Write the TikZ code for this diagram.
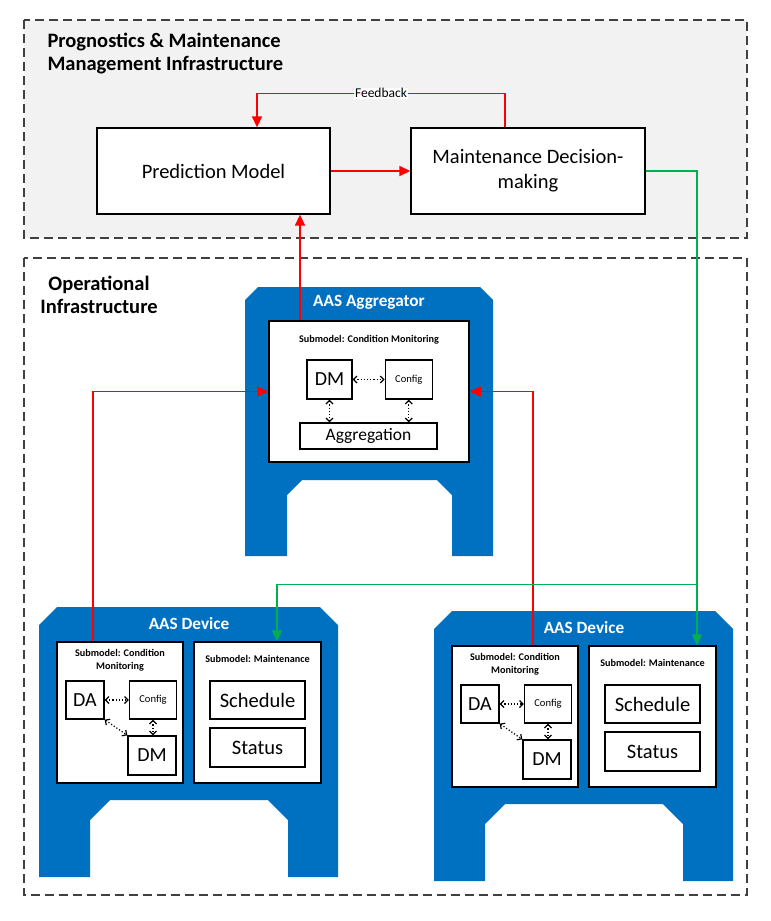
\documentclass[tikz,border=0pt]{standalone}
\usepackage{fontspec}
\setmainfont{Carlito}
\usepackage{tikz}
\usetikzlibrary{arrows.meta,calc,positioning}
\definecolor{aasblue}{HTML}{0070C0}
\definecolor{infragray}{HTML}{F2F2F2}
\definecolor{arrred}{HTML}{FF0000}
\definecolor{arrgreen}{HTML}{00B050}
\tikzstyle{infra} = [draw=black!75, line width=2pt, dash pattern=on 9pt off 5pt]
\tikzstyle{title} = [font=\bfseries\fontsize{20.5}{23}\selectfont]
\tikzstyle{block} = [rectangle, draw, fill=white, line width=1.3pt, align=center,
    minimum width=233pt, minimum height=86pt, font=\fontsize{20.5}{25}\selectfont]
\tikzstyle{submodel} = [rectangle, draw, fill=white, line width=1.5pt,
    minimum width=126pt, minimum height=141pt]
\tikzstyle{sublabel} = [align=center, font=\bfseries\fontsize{10.2}{13}\selectfont]
\tikzstyle{aastitle} = [text=white, font=\bfseries\fontsize{17.2}{20}\selectfont]
\tikzstyle{part} = [rectangle, draw, fill=white, line width=1.3pt, inner sep=0pt,
    minimum width=47pt, minimum height=39pt, font=\fontsize{20}{22}\selectfont]
\tikzstyle{cfg} = [part, font=\fontsize{10.6}{12}\selectfont]
\tikzstyle{entry} = [part, minimum width=95pt, font=\fontsize{20.5}{24}\selectfont]
\tikzstyle{line} = [draw=arrred, line width=1.4pt, -{Triangle[length=11pt,width=10pt]}]
\tikzstyle{gline} = [draw=arrgreen, line width=1.4pt, -{Triangle[length=11pt,width=10pt]}]
\tikzstyle{dotline} = [draw, dotted, line width=1.2pt,
    {Straight Barb[length=3.5pt,width=7pt]}-{Straight Barb[length=3.5pt,width=7pt]}]

\begin{document}
\begin{tikzpicture}[x=1pt,y=-1pt]
    \useasboundingbox (0,0) rectangle (771,921);
    % Infrastructure frames
    \draw [infra, fill=infragray] (24,20) rectangle (747,238);
    \draw [infra] (24,258) rectangle (747,895);
    \node [title, anchor=west, align=left] (pmtitle) at (44,53.5) {Prognostics \& Maintenance\\Management Infrastructure};
    \node [title, align=center] (optitle) at (99,295) {Operational\\Infrastructure};

    % Place nodes
    \node [block] (pred) at (213.5,171) {Prediction Model};
    \node [block, minimum width=234pt] (mdm) at (528,171) {Maintenance Decision-\\making};

    % AAS Aggregator
    \fill [aasblue] (245,300) -- (258,287) -- (480,287) -- (493,300) -- (493,556) -- (452,556)
        -- (452,495) -- (437,480) -- (302,480) -- (287,495) -- (287,556) -- (245,556) -- cycle;
    \node [aastitle] (aggtitle) at (369,302) {AAS Aggregator};
    \node [submodel, minimum width=200pt] (aggsub) at (369,391.5) {};
    \node [sublabel] (agglabel) at (369,340) {Submodel: Condition Monitoring};
    \node [part, minimum width=45pt] (aggdm) at (329.5,379.5) {DM};
    \node [cfg, right=32pt of aggdm] (aggcfg) {Config};
    \node [part, minimum width=137pt, minimum height=26pt, font=\fontsize{17.5}{20}\selectfont] (aggagg) at (368.5,436) {Aggregation};

    % AAS Device, left
    \fill [aasblue] (39,625) -- (57,607) -- (320,607) -- (338,625) -- (338,877) -- (288,877)
        -- (288,820) -- (268,800) -- (110,800) -- (90,820) -- (90,877) -- (39,877) -- cycle;
    \node [aastitle] (ltitle) at (189,624) {AAS Device};
    \node [submodel] (lcm) at (120,712.5) {};
    \node [sublabel] (lcmlabel) at (120,660.5) {Submodel: Condition\\Monitoring};
    \node [part, minimum width=38pt, minimum height=38pt] (lda) at (85,700) {DA};
    \node [cfg, minimum height=38pt] (lcfg) at (153,700) {Config};
    \node [part, minimum width=48pt] (ldm) at (152,755.5) {DM};
    \node [submodel, minimum width=127pt] (lmaint) at (257.5,712.5) {};
    \node [sublabel] (lmaintlabel) at (257.5,659) {Submodel: Maintenance};
    \node [entry, minimum height=38pt] (lsched) at (257.5,700) {Schedule};
    \node [entry] (lstatus) at (257.5,747.5) {Status};

    % AAS Device, right
    \begin{scope}[shift={(395,4)}]
    \fill [aasblue] (39,625) -- (57,607) -- (320,607) -- (338,625) -- (338,877) -- (288,877)
        -- (288,820) -- (268,800) -- (110,800) -- (90,820) -- (90,877) -- (39,877) -- cycle;
    \node [aastitle] (rtitle) at (189,624) {AAS Device};
    \node [submodel] (rcm) at (120,712.5) {};
    \node [sublabel] (rcmlabel) at (120,660.5) {Submodel: Condition\\Monitoring};
    \node [part, minimum width=38pt, minimum height=38pt] (rda) at (85,700) {DA};
    \node [cfg, minimum height=38pt] (rcfg) at (153,700) {Config};
    \node [part, minimum width=48pt] (rdm) at (152,755.5) {DM};
    \node [submodel, minimum width=127pt] (rmaint) at (257.5,712.5) {};
    \node [sublabel] (rmaintlabel) at (257.5,659) {Submodel: Maintenance};
    \node [entry, minimum height=38pt] (rsched) at (257.5,700) {Schedule};
    \node [entry] (rstatus) at (257.5,747.5) {Status};
    \end{scope}

    % Draw edges
    \path [line] (pred.east) -- (mdm.west);
    \path [line] ($(mdm.north)+(-23,0)$) -- ++(0,-34) -| node [pos=0.25, fill=white, inner sep=1pt,
        font=\fontsize{13.5}{15}\selectfont] (fb) {Feedback} ($(pred.north)+(43.5,0)$);
    \path [line] ($(aggsub.north)+(-69,0)$) -- ($(pred.south)+(86.5,0)$);
    \path [line] ($(lcm.north)+(-27,0)$) |- (aggsub.west);
    \path [line] ($(rcm.north)+(18,0)$) |- (aggsub.east);
    \path [gline] (mdm.east) -| ($(rmaint.north)+(44.5,0)$);
    \path [gline] ($(rmaint.north)+(44.5,-61)$) -| ($(lmaint.north)+(19.5,0)$);
    % dotted links
    \path [dotline] (aggdm.east) -- (aggcfg.west);
    \path [dotline] (aggdm.south) -- (aggdm.south |- aggagg.north);
    \path [dotline] (aggcfg.south) -- (aggcfg.south |- aggagg.north);
    \path [dotline] (lda.east) -- (lcfg.west);
    \path [dotline] (lcfg.south) -- (lcfg.south |- ldm.north);
    \path [dotline] (lda.south east) -- (ldm.north west);
    \path [dotline] (rda.east) -- (rcfg.west);
    \path [dotline] (rcfg.south) -- (rcfg.south |- rdm.north);
    \path [dotline] (rda.south east) -- (rdm.north west);

\end{tikzpicture}
\end{document}
